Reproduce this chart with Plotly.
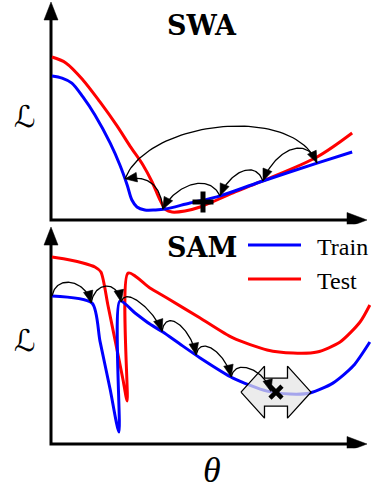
import numpy as np
import plotly.graph_objects as go

# ---------------- data (theta, loss) ----------------
swa_train_theta = [0.03, 0.35, 0.66, 1.01, 1.39, 1.87, 2.18, 2.41, 2.56, 2.72, 2.97, 3.29, 3.61, 4.40, 5.25, 6.61, 8.42, 9.53]
swa_train_loss  = [6.86, 6.76, 6.52, 5.86, 5.00, 3.67, 2.62, 1.67, 0.95, 0.62, 0.48, 0.48, 0.52, 0.81, 1.10, 1.81, 2.71, 3.24]
swa_test_theta  = [0.03, 0.47, 1.01, 1.55, 2.09, 2.50, 2.91, 3.20, 3.45, 3.64, 3.83, 4.24, 4.72, 5.76, 6.61, 8.42, 9.53]
swa_test_loss   = [7.76, 7.48, 6.67, 5.62, 4.48, 3.52, 2.62, 1.81, 0.95, 0.48, 0.38, 0.43, 0.62, 1.29, 1.81, 3.00, 4.14]

sam_train_theta = [0.03, 1.30, 1.55, 1.87, 2.15, 2.18, 2.66, 3.13, 3.54, 4.08, 4.72, 5.76, 6.84, 7.56, 8.20, 8.92, 9.56, 10.09]
sam_train_loss  = [7.05, 6.71, 4.90, 2.62, 0.57, 6.81, 6.24, 5.71, 5.33, 4.76, 4.10, 3.14, 2.52, 2.38, 2.43, 2.90, 3.71, 4.86]
sam_test_theta  = [0.03, 0.60, 1.01, 1.39, 1.58, 1.80, 2.06, 2.28, 2.41, 2.44, 3.13, 3.67, 4.72, 5.76, 6.84, 7.66, 8.42, 9.15, 9.78, 10.09]
sam_test_loss   = [8.90, 8.76, 8.62, 8.43, 8.19, 6.62, 4.71, 3.05, 2.05, 8.14, 7.43, 6.95, 6.00, 5.05, 4.48, 4.33, 4.38, 4.86, 5.81, 6.62]

# SWA iterates (cyclic learning rate, right -> left) and restart
swa_hops = [8.42, 6.71, 5.35, 3.54, 2.34]
swa_hop_rise = [1.05, 0.8, 0.85, 0.5]
swa_hop_shift = [0.0, 0.0, 0.0, 0.51]
swa_restart_rise = 2.1
swa_average = (4.81, 0.86)

# SAM iterates
sam_hops = [0.03, 1.27, 2.22, 3.51, 4.59, 5.70, 6.96]
sam_hop_rise = [0.8, 0.78, 0.62, 0.9, 0.78, 0.72]
sam_final = (7.12, 2.47)

panel_titles = ["SWA", "SAM"]
legend_labels = ["Train", "Test"]
axis_labels = ["\u2112", "\u03b8"]

BLUE, RED = "#0000ff", "#ff0000"

# ---------------- layout geometry ----------------
W, H = 375, 489
X0, KX = 51.0, 31.6          # pixel of theta=0, pixels per theta unit
KY = 21.0                    # pixels per loss unit
Y0 = {1: 220.0, 2: 444.0}    # pixel of loss=0 for each panel
xr = [-1.6, 10.25]
yr = {1: [-0.2, 10.45], 2: [-0.2, 10.36]}


def xdom(r):
    return [(X0 + r[0] * KX) / W, (X0 + r[1] * KX) / W]


def ydom(r, y0):
    return [1 - (y0 - r[0] * KY) / H, 1 - (y0 - r[1] * KY) / H]


fig = go.Figure()


def add(tr, panel):
    tr.update(xaxis="x" if panel == 1 else "x2", yaxis="y" if panel == 1 else "y2",
              showlegend=False, hoverinfo="skip")
    fig.add_trace(tr)


def curve(x, y, color, panel, smooth=0.9):
    add(go.Scatter(x=x, y=y, mode="lines",
                   line=dict(color=color, width=3, shape="spline", smoothing=smooth)), panel)


def head(tipx, tipy, vx, vy, panel, length=12.0, half=4.8):
    """filled arrowhead; direction (vx, vy) given in pixel units (y up)"""
    nrm = np.hypot(vx, vy)
    ux, uy = vx / nrm, vy / nrm
    bx, by = -ux * length, -uy * length
    px_, py_ = -uy * half, ux * half
    xs = [tipx, tipx + (bx + px_) / KX, tipx + (bx - px_) / KX, tipx]
    ys = [tipy, tipy + (by + py_) / KY, tipy + (by - py_) / KY, tipy]
    add(go.Scatter(x=xs, y=ys, mode="lines", fill="toself", fillcolor="black",
                   line=dict(color="black", width=0.6)), panel)


def draw_arc(x, y, panel):
    add(go.Scatter(x=x[:-2], y=y[:-2], mode="lines", line=dict(color="black", width=1.3)), panel)
    vx = (x[-1] - x[-3]) * KX
    vy = (y[-1] - y[-3]) * KY
    head(x[-1], y[-1], vx, vy, panel)


def arch(p0, p3, rise, panel, lean=0.15, n=60):
    """round hop arc: cubic Bezier with near-vertical end tangents"""
    c = rise * 4 / 3
    d = p3[0] - p0[0]
    p1 = (p0[0] + lean * d, p0[1] + c)
    p2 = (p3[0] - lean * d, p3[1] + c)
    t = np.linspace(0, 1, n)
    b = [(1 - t) ** 3, 3 * (1 - t) ** 2 * t, 3 * (1 - t) * t ** 2, t ** 3]
    x = b[0] * p0[0] + b[1] * p1[0] + b[2] * p2[0] + b[3] * p3[0]
    y = b[0] * p0[1] + b[1] * p1[1] + b[2] * p2[1] + b[3] * p3[1]
    draw_arc(x, y, panel)


def quad(p0, p2, rise, panel, shift=0.0, n=50):
    cx = (p0[0] + p2[0]) / 2 + shift
    cy = (p0[1] + p2[1]) / 2 + 2 * rise
    t = np.linspace(0, 1, n)
    x = (1 - t) ** 2 * p0[0] + 2 * (1 - t) * t * cx + t ** 2 * p2[0]
    y = (1 - t) ** 2 * p0[1] + 2 * (1 - t) * t * cy + t ** 2 * p2[1]
    draw_arc(x, y, panel)


def axes_arrows(panel, ytip):
    ybase = ytip - 18 / KY
    xtip = 10.0
    xbase = xtip - 20 / KX
    add(go.Scatter(x=[0, 0, xbase], y=[ybase, 0, 0], mode="lines",
                   line=dict(color="black", width=3)), panel)
    hw = 7 / KX
    add(go.Scatter(x=[-hw, hw, 0, -hw], y=[ybase, ybase, ytip, ybase], mode="lines",
                   fill="toself", fillcolor="black", line=dict(color="black", width=0.5)), panel)
    hh = 7.5 / KY
    add(go.Scatter(x=[xbase, xbase, xtip, xbase], y=[-hh, hh, 0, -hh], mode="lines",
                   fill="toself", fillcolor="black", line=dict(color="black", width=0.5)), panel)


def on_train(th, xs, ys):
    return (th, float(np.interp(th, xs, ys)))


# ---------------- top panel: SWA ----------------
axes_arrows(1, 10.38)
curve(swa_test_theta, swa_test_loss, RED, 1)
curve(swa_train_theta, swa_train_loss, BLUE, 1)

pts = [on_train(t, swa_train_theta, swa_train_loss) for t in swa_hops]
for i in range(len(pts) - 2):
    arch(pts[i], pts[i + 1], swa_hop_rise[i], 1, lean=0.2)
quad(pts[-2], pts[-1], swa_hop_rise[-1], 1, shift=swa_hop_shift[-1])
arch(pts[-1], pts[0], swa_restart_rise, 1, lean=0.12)
add(go.Scatter(x=[swa_average[0]], y=[swa_average[1]], mode="markers", cliponaxis=False,
               marker=dict(symbol="cross-thin", size=15, line=dict(color="black", width=5))), 1)

# ---------------- bottom panel: SAM ----------------
axes_arrows(2, 10.33)
curve(sam_test_theta, sam_test_loss, RED, 2, smooth=0.7)
curve(sam_train_theta, sam_train_loss, BLUE, 2, smooth=0.7)

# flat-region double arrow around the SAM solution
cx, cy = sam_final
tip, base, hh, sh = 35 / KX, 11.5 / KX, 26 / KY, 14 / KY
dax = [-tip, -base, -base, base, base, tip, base, base, -base, -base, -tip]
day = [0, hh, sh, sh, hh, 0, -hh, -sh, -sh, -hh, 0]
add(go.Scatter(x=[cx + v for v in dax], y=[cy + v for v in day], mode="lines", fill="toself",
               fillcolor="rgba(228,228,228,0.72)", line=dict(color="black", width=1.3)), 2)

spts = [on_train(t, sam_train_theta, sam_train_loss) for t in sam_hops]
for i in range(len(spts) - 1):
    arch(spts[i], spts[i + 1], sam_hop_rise[i], 2, lean=0.12)
add(go.Scatter(x=[cx], y=[cy], mode="markers", cliponaxis=False,
               marker=dict(symbol="x-thin", size=12, line=dict(color="black", width=4.5))), 2)

# ---------------- axes / layout ----------------
ax_common = dict(visible=False, showgrid=False, zeroline=False, fixedrange=True)
fig.update_layout(
    width=W, height=H, margin=dict(l=0, r=0, t=0, b=0),
    paper_bgcolor="white", plot_bgcolor="white",
    xaxis=dict(domain=xdom(xr), range=xr, anchor="y", **ax_common),
    yaxis=dict(domain=ydom(yr[1], Y0[1]), range=yr[1], anchor="x", **ax_common),
    xaxis2=dict(domain=xdom(xr), range=xr, anchor="y2", **ax_common),
    yaxis2=dict(domain=ydom(yr[2], Y0[2]), range=yr[2], anchor="x2", **ax_common),
    showlegend=False,
)


def label(text, xp, yp, family, size, xanchor="center"):
    return dict(text=text, x=xp / W, y=1 - yp / H, xref="paper", yref="paper",
                xanchor=xanchor, yanchor="middle", showarrow=False,
                font=dict(family=family, size=size, color="black"))


serif = "DejaVu Serif"
ann = [
    label("<b>%s</b>" % panel_titles[0], 202, 25, serif, 27),
    label("<b>%s</b>" % panel_titles[1], 202, 247, serif, 27),
    label(axis_labels[0], 25, 117, "DejaVu Serif, DejaVu Sans", 30),
    label(axis_labels[0], 25, 340, "DejaVu Serif, DejaVu Sans", 30),
    label("<i>%s</i>" % axis_labels[1], 212, 470, "Liberation Serif", 36),
]

shapes = []
for lab, col, yc in zip(legend_labels, [BLUE, RED], [245, 279]):
    shapes.append(dict(type="line", xref="paper", yref="paper", x0=248 / W, x1=301 / W,
                       y0=1 - yc / H, y1=1 - yc / H, line=dict(color=col, width=3)))
    ann.append(label(lab, 315, yc + 2, "Liberation Serif", 24, xanchor="left"))

fig.update_layout(annotations=ann, shapes=shapes)
fig.write_html("out.html", config={"displayModeBar": False},
               post_script="document.body.style.margin='0px';")
